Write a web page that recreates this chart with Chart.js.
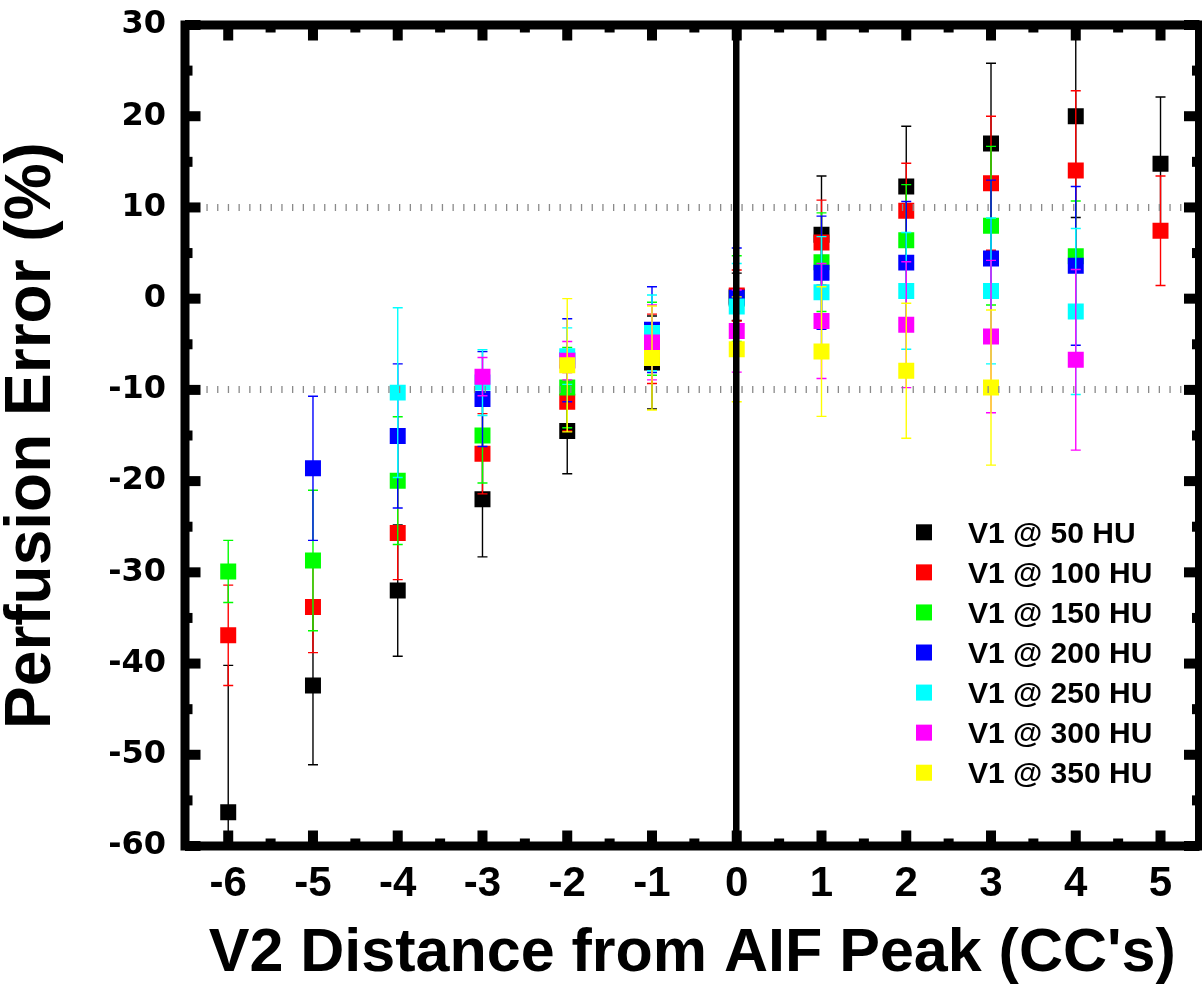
<!DOCTYPE html>
<html>
<head>
<meta charset="utf-8">
<script src="https://cdn.jsdelivr.net/npm/chart.js@4.4.1/dist/chart.umd.min.js"></script>
<style>
  html, body { margin: 0; padding: 0; background: #fff; }
  #wrap { width: 1202px; height: 991px; }
</style>
</head>
<body>
<div id="wrap"><canvas id="c" width="1202" height="991"></canvas></div>
<script>
// ---- Data ----
const xValues = [-6, -5, -4, -3, -2, -1, 0, 1, 2, 3, 4, 5];
const seriesLabels = ['V1 @ 50 HU', 'V1 @ 100 HU', 'V1 @ 150 HU', 'V1 @ 200 HU', 'V1 @ 250 HU', 'V1 @ 300 HU', 'V1 @ 350 HU'];
const seriesColors = ['#000000', '#ff0000', '#00ff00', '#0000ff', '#00ffff', '#ff00ff', '#ffff00'];

const mean50  = [-56.3, -42.4, -32.0, -22.0, -14.5, -7.0, 0.2, 7.0, 12.3, 17.0, 20.0, 14.8];
const err50   = [16.1, 8.7, 7.2, 6.3, 4.7, 5.1, 2.6, 6.45, 6.6, 8.8, 11.1, 7.3];
const mean100 = [-36.9, -33.8, -25.7, -17.0, -11.3, -5.5, 0.35, 6.15, 9.65, 12.65, 14.05, 7.45];
const err100  = [5.5, 5.0, 5.1, 4.4, 3.2, 3.8, 2.8, 4.65, 5.2, 7.35, 8.75, 6.0];
const mean150 = [-29.9, -28.7, -19.95, -15.0, -9.75, -4.4, 0.0, 4.0, 6.4, 8.0, 4.65, null];
const err150  = [3.4, 7.7, 7.0, 5.2, 4.4, 4.0, 4.7, 5.4, 6.1, 8.7, 6.05, null];
const mean200 = [null, -18.6, -15.05, -11.0, -6.75, -3.4, 0.1, 2.85, 3.95, 4.4, 3.6, null];
const err200  = [null, 7.9, 7.9, 5.2, 4.55, 4.7, 5.45, 6.2, 6.7, 8.6, 8.7, null];
const mean250 = [null, null, -10.3, -9.2, -6.3, -3.75, -0.85, 0.7, 0.85, 0.85, -1.4, null];
const err250  = [null, null, 9.3, 3.6, 3.1, 4.15, 4.7, 6.1, 6.4, 8.0, 9.1, null];
const mean300 = [null, null, null, -8.55, -6.8, -4.8, -3.55, -2.45, -2.85, -4.15, -6.7, null];
const err300  = [null, null, null, 2.1, 2.1, 4.1, 4.5, 6.3, 6.9, 8.35, 9.9, null];
const mean350 = [null, null, null, null, -7.3, -6.5, -5.55, -5.8, -7.9, -9.75, null, null];
const err350  = [null, null, null, null, 7.3, 5.7, 5.75, 7.1, 7.4, 8.5, null, null];

const xTickValues = [-6, -5, -4, -3, -2, -1, 0, 1, 2, 3, 4, 5];
const xTickLabels = ['-6', '-5', '-4', '-3', '-2', '-1', '0', '1', '2', '3', '4', '5'];
const xMinorValues = [-5.5, -4.5, -3.5, -2.5, -1.5, -0.5, 0.5, 1.5, 2.5, 3.5, 4.5];
const yTickValues = [-60, -50, -40, -30, -20, -10, 0, 10, 20, 30];
const yTickLabels = ['-60', '-50', '-40', '-30', '-20', '-10', '0', '10', '20', '30'];
const yMinorValues = [-55, -45, -35, -25, -15, -5, 5, 15, 25];
const refLines = [10, -10];

const xTitle = "V2 Distance from AIF Peak (CC's)";
const yTitle = 'Perfusion Error (%)';

const means = [mean50, mean100, mean150, mean200, mean250, mean300, mean350];
const errs = [err50, err100, err150, err200, err250, err300, err350];

// ---- Build datasets ----
const datasets = seriesLabels.map((label, i) => ({
  label,
  data: xValues.map((x, k) => means[i][k] === null ? null : { x, y: means[i][k], e: errs[i][k] }).filter(p => p !== null),
  backgroundColor: seriesColors[i],
  borderColor: seriesColors[i],
  borderWidth: 0,
  pointStyle: 'rect',
  pointRadius: 11.3,
  pointHoverRadius: 11.3,
  order: seriesLabels.length - 1 - i
}));

// ---- Plugins ----
const errorBars = {
  id: 'errorBars',
  beforeDatasetDraw(chart, args) {
    const { ctx, chartArea: a, scales: { x, y } } = chart;
    const ds = chart.data.datasets[args.index];
    ctx.save();
    ctx.beginPath();
    ctx.rect(a.left, a.top, a.right - a.left, a.bottom - a.top);
    ctx.clip();
    ctx.strokeStyle = ds.borderColor;
    ctx.lineWidth = 1.4;
    ds.data.forEach(p => {
      const px = x.getPixelForValue(p.x);
      const pt = y.getPixelForValue(p.y + p.e);
      const pb = y.getPixelForValue(p.y - p.e);
      ctx.beginPath();
      ctx.moveTo(px, pt); ctx.lineTo(px, pb);
      ctx.moveTo(px - 5, pt); ctx.lineTo(px + 5, pt);
      ctx.moveTo(px - 5, pb); ctx.lineTo(px + 5, pb);
      ctx.stroke();
    });
    ctx.restore();
  }
};

const frameTicks = {
  id: 'frameTicks',
  afterDraw(chart) {
    const { ctx, chartArea: a, scales: { x, y } } = chart;
    ctx.save();
    ctx.fillStyle = '#000';
    const major = 15.5, minor = 7.5, w = 10;
    xTickValues.forEach(v => {
      const px = x.getPixelForValue(v);
      ctx.fillRect(px - w / 2, a.bottom - major, w, major);
      ctx.fillRect(px - w / 2, a.top, w, major);
    });
    xMinorValues.forEach(v => {
      const px = x.getPixelForValue(v);
      ctx.fillRect(px - w / 2, a.bottom - minor, w, minor);
      ctx.fillRect(px - w / 2, a.top, w, minor);
    });
    yTickValues.forEach(v => {
      const py = y.getPixelForValue(v);
      ctx.fillRect(a.left, py - w / 2, major, w);
      ctx.fillRect(a.right - major, py - w / 2, major, w);
    });
    yMinorValues.forEach(v => {
      const py = y.getPixelForValue(v);
      ctx.fillRect(a.left, py - w / 2, minor, w);
      ctx.fillRect(a.right - minor, py - w / 2, minor, w);
    });
    ctx.lineWidth = 9;
    ctx.strokeStyle = '#000';
    ctx.strokeRect(a.left, a.top, a.right - a.left, a.bottom - a.top);
    ctx.restore();
  }
};

const customLegend = {
  id: 'customLegend',
  afterDraw(chart) {
    const { ctx } = chart;
    ctx.save();
    ctx.font = 'bold 30px "Liberation Sans", Arial, sans-serif';
    ctx.textBaseline = 'alphabetic';
    ctx.textAlign = 'left';
    chart.data.datasets.forEach((ds, i) => {
      const cy = 532.3 + 40.07 * i;
      ctx.fillStyle = ds.backgroundColor;
      ctx.fillRect(916, cy - 8, 16, 16);
      ctx.fillStyle = '#000';
      ctx.fillText(ds.label, 968, cy + 10.7);
    });
    ctx.restore();
  }
};

new Chart(document.getElementById('c'), {
  type: 'scatter',
  data: { datasets },
  plugins: [errorBars, frameTicks, customLegend],
  options: {
    responsive: false,
    animation: false,
    devicePixelRatio: 1,
    layout: { autoPadding: false, padding: { top: 25, right: 2.5, left: 0, bottom: 0 } },
    plugins: { legend: { display: false }, tooltip: { enabled: false } },
    scales: {
      x: {
        type: 'linear',
        min: -6.51,
        max: 5.46,
        afterBuildTicks: s => { s.ticks = xTickValues.map(v => ({ value: v })); },
        afterFit: s => { s.height = 145; s.paddingLeft = 0; s.paddingRight = 0; },
        ticks: {
          callback: (v) => xTickLabels[xTickValues.indexOf(v)],
          color: '#000',
          padding: 13,
          maxRotation: 0,
          autoSkip: false,
          font: { family: '"Liberation Sans", Arial, sans-serif', weight: 'bold', size: 42 }
        },
        grid: {
          z: 1,
          drawTicks: false,
          color: c => (c.tick && c.tick.value === 0 ? '#000' : 'rgba(0,0,0,0)'),
          lineWidth: c => (c.tick && c.tick.value === 0 ? 6.5 : 0)
        },
        border: { display: false },
        title: {
          display: true,
          text: xTitle,
          color: '#000',
          padding: 0,
          font: { family: '"Liberation Sans", Arial, sans-serif', weight: 'bold', size: 61, lineHeight: 1.2 }
        }
      },
      y: {
        type: 'linear',
        min: -60,
        max: 30,
        afterBuildTicks: s => { s.ticks = yTickValues.map(v => ({ value: v })); },
        afterFit: s => { s.width = 185; s.paddingTop = 0; s.paddingBottom = 0; },
        ticks: {
          callback: (v) => yTickLabels[yTickValues.indexOf(v)],
          color: '#000',
          padding: 19,
          autoSkip: false,
          font: { family: '"DejaVu Sans", sans-serif', weight: 'bold', size: 32 }
        },
        grid: {
          z: 1,
          drawTicks: false,
          color: c => (c.tick && refLines.includes(c.tick.value) ? '#8a8a8a' : 'rgba(0,0,0,0)'),
          lineWidth: c => (c.tick && refLines.includes(c.tick.value) ? 7 : 0)
        },
        border: { display: false, dash: [1.3, 9.4] },
        title: {
          display: true,
          text: yTitle,
          color: '#000',
          padding: 0,
          font: { family: '"Liberation Sans", Arial, sans-serif', weight: 'bold', size: 64, lineHeight: 1.0 }
        }
      }
    }
  }
});
</script>
</body>
</html>
